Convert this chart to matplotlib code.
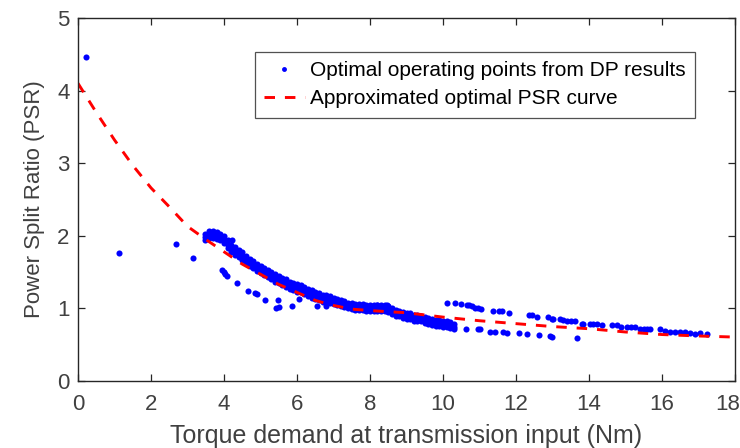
import matplotlib
matplotlib.use("Agg")
import matplotlib.pyplot as plt
import matplotlib.transforms as mtransforms

# ---- data ----
# approximated optimal PSR curve
curve_x = [0.0, 0.5, 1.0, 1.5, 2.0, 2.5, 3.0, 3.5, 4.0, 4.5, 5.0, 5.5, 6.0, 6.5,
           7.0, 7.5, 8.0, 8.5, 9.0, 9.5, 10.0, 11.0, 12.0, 13.0, 14.0, 15.0,
           16.0, 17.0, 18.0]
curve_y = [4.10, 3.70, 3.32, 2.97, 2.66, 2.40, 2.13, 1.95, 1.78, 1.61, 1.47, 1.33,
           1.22, 1.11, 1.04, 0.99, 0.97, 0.955, 0.94, 0.91, 0.88, 0.83, 0.79,
           0.75, 0.72, 0.675, 0.64, 0.62, 0.605]

# dense band of DP operating points (upper edge, middle and lower edge)
band_x = [3.48, 3.6, 3.7, 3.8, 3.9, 4.0, 4.1, 4.2, 4.3, 4.4, 4.5, 4.6, 4.7, 4.8,
          4.9, 5.0, 5.1, 5.2, 5.3, 5.4, 5.5, 5.6, 5.7, 5.8, 5.9, 6.0, 6.1, 6.2,
          6.3, 6.4, 6.5, 6.6, 6.7, 6.8, 6.9, 7.0, 7.1, 7.2, 7.3, 7.4, 7.5, 7.6,
          7.7, 7.8, 7.9, 8.0, 8.1, 8.2, 8.3, 8.4, 8.5, 8.6, 8.7, 8.8, 8.9, 9.0,
          9.1, 9.2, 9.3, 9.4, 9.5, 9.6, 9.7, 9.8, 9.9, 10.0, 10.1, 10.2, 10.3]
band_top = [2.02, 2.06, 2.06, 2.05, 2.03, 2.00, 1.94, 1.88, 1.84, 1.81, 1.77,
            1.72, 1.68, 1.65, 1.61, 1.59, 1.56, 1.53, 1.50, 1.47, 1.45, 1.42,
            1.40, 1.37, 1.35, 1.33, 1.32, 1.30, 1.27, 1.25, 1.23, 1.21, 1.19,
            1.18, 1.17, 1.15, 1.13, 1.12, 1.10, 1.08, 1.07, 1.06, 1.06, 1.06,
            1.05, 1.05, 1.05, 1.04, 1.04, 1.05, 1.03, 1.00, 0.98, 0.97, 0.95,
            0.94, 0.93, 0.91, 0.91, 0.90, 0.88, 0.87, 0.85, 0.84, 0.84, 0.83,
            0.82, 0.81, 0.79]
band_mid = [1.98, 2.02, 2.02, 2.01, 1.99, 1.95, 1.88, 1.82, 1.78, 1.76, 1.72,
            1.67, 1.63, 1.60, 1.56, 1.54, 1.51, 1.48, 1.45, 1.42, 1.40, 1.37,
            1.35, 1.32, 1.30, 1.28, 1.27, 1.25, 1.22, 1.20, 1.18, 1.16, 1.14,
            1.13, 1.12, 1.10, 1.08, 1.07, 1.06, 1.04, 1.03, 1.02, 1.02, 1.02,
            1.01, 1.01, 1.01, 1.00, 1.00, 1.01, 0.99, 0.96, 0.94, 0.93, 0.91,
            0.90, 0.89, 0.87, 0.87, 0.86, 0.84, 0.83, 0.81, 0.80, 0.80, 0.79,
            0.78, 0.77, 0.75]
band_bot = [1.94, 1.97, 1.97, 1.96, 1.94, 1.90, 1.83, 1.77, 1.73, 1.71, 1.67,
            1.62, 1.58, 1.55, 1.51, 1.49, 1.46, 1.43, 1.40, 1.37, 1.35, 1.32,
            1.30, 1.27, 1.25, 1.23, 1.22, 1.20, 1.17, 1.15, 1.13, 1.11, 1.09,
            1.08, 1.07, 1.06, 1.04, 1.03, 1.02, 1.00, 0.99, 0.98, 0.98, 0.98,
            0.97, 0.97, 0.97, 0.96, 0.96, 0.97, 0.95, 0.92, 0.90, 0.89, 0.87,
            0.86, 0.85, 0.83, 0.83, 0.82, 0.80, 0.79, 0.77, 0.76, 0.76, 0.75,
            0.74, 0.73, 0.71]

# scattered DP operating points
pts_x = [0.22, 1.12, 2.68, 3.14, 4.21,
         3.94, 3.99, 4.04, 4.08, 4.35, 4.67, 4.85, 4.91, 5.12, 5.49, 5.43, 5.50,
         5.85, 6.06, 6.54, 6.80, 8.18, 8.47,
         10.12, 10.34, 10.50, 10.65, 10.72, 10.80, 10.88, 10.97, 11.03, 11.38,
         11.54, 11.62, 11.80, 12.36, 12.43, 12.57, 12.88, 12.98, 13.02, 13.20,
         13.30, 13.39, 13.52, 13.62, 13.80, 13.84, 14.03, 14.12, 14.21, 14.35,
         14.62, 14.76, 14.88, 15.03, 15.15, 15.26, 15.40, 15.50, 15.60, 15.67,
         15.95, 16.08, 16.22, 16.36, 16.50, 16.64, 16.77, 16.91, 17.04, 17.22,
         10.62, 10.97, 11.01, 11.29, 11.42, 11.65, 11.76, 12.09, 12.31, 12.63,
         12.93, 12.98, 13.68]
pts_y = [4.46, 1.76, 1.89, 1.69, 1.94,
         1.53, 1.50, 1.47, 1.44, 1.35, 1.24, 1.21, 1.20, 1.12, 1.12, 1.00, 1.02,
         1.03, 1.13, 1.03, 1.03, 1.05, 1.05,
         1.08, 1.07, 1.06, 1.04, 1.04, 1.03, 1.01, 1.00, 0.99, 0.97,
         0.97, 0.97, 0.93, 0.91, 0.91, 0.88, 0.88, 0.85, 0.85, 0.85,
         0.84, 0.82, 0.82, 0.82, 0.79, 0.79, 0.79, 0.79, 0.79, 0.77,
         0.77, 0.77, 0.75, 0.75, 0.74, 0.74, 0.71, 0.71, 0.71, 0.71,
         0.71, 0.69, 0.68, 0.68, 0.68, 0.68, 0.66, 0.65, 0.66, 0.65,
         0.71, 0.71, 0.71, 0.68, 0.68, 0.68, 0.66, 0.66, 0.65, 0.63,
         0.62, 0.60, 0.59]

x_ticks = [0, 2, 4, 6, 8, 10, 12, 14, 16, 18]
y_ticks = [0, 1, 2, 3, 4, 5]

# ---- figure ----
plt.rcParams['font.family'] = ['Liberation Sans', 'DejaVu Sans']
fig = plt.figure(figsize=(7.40, 4.48), dpi=100)
ax = fig.add_axes([78 / 740, 1 - 381 / 448, 657 / 740, 363 / 448])

dp_x = pts_x + band_x + band_x + band_x
dp_y = pts_y + band_top + band_mid + band_bot
ax.plot(dp_x, dp_y, linestyle='none', marker='o', markersize=4.4,
        color='#0000ff', markeredgewidth=0,
        label='Optimal operating points from DP results')
ax.plot(curve_x, curve_y, color='#ff0000', linewidth=2.1, dashes=[3.6, 3.4],
        label='Approximated optimal PSR curve')

ax.set_xlim(0, 18)
ax.set_ylim(0, 5)
ax.set_xticks(x_ticks)
ax.set_yticks(y_ticks)
axc = '#262626'
for s in ax.spines.values():
    s.set_color(axc)
    s.set_linewidth(1.0)
ax.tick_params(direction='in', length=5, width=0.9, colors=axc,
               top=True, right=True, labelsize=16, labelcolor='#404040')
ax.tick_params(axis='x', pad=9)
ax.tick_params(axis='y', pad=6)
ax.set_xlabel('Torque demand at transmission input (Nm)', fontsize=18,
              color='#404040', labelpad=7)
ax.set_ylabel('Power Split Ratio (PSR)', fontsize=16, color='#404040',
              labelpad=9)

# keep the last x tick label inside the picture
fig.canvas.draw()
last = ax.get_xticklabels()[-1]
last.set_transform(last.get_transform() +
                   mtransforms.ScaledTranslation(-7 / 100, 0, fig.dpi_scale_trans))

leg = ax.legend(loc='upper right', bbox_to_anchor=(0.939, 0.906),
                borderaxespad=0, fontsize=15, frameon=True, fancybox=False,
                edgecolor='#262626', handlelength=1.95, handletextpad=0.25,
                borderpad=0.45, labelspacing=0.42, markerscale=0.8)
leg.get_frame().set_linewidth(0.9)

fig.savefig('out.png', dpi=100)
